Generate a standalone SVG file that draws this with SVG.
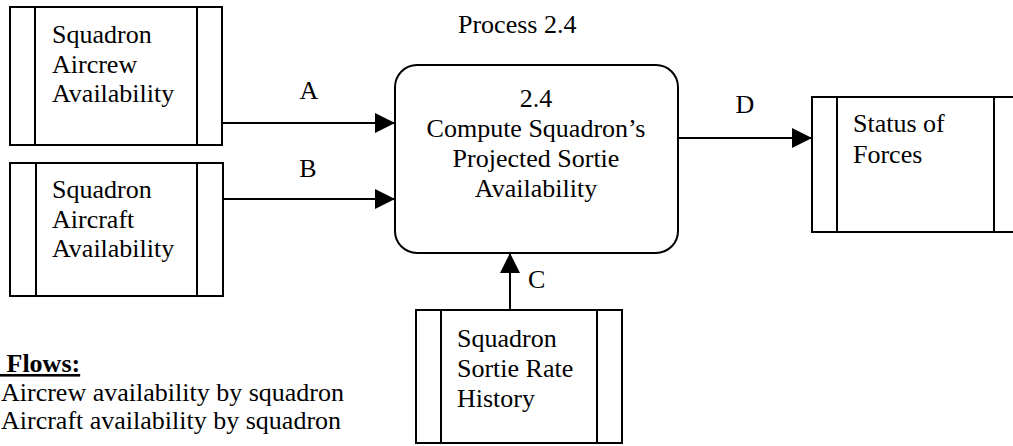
<svg xmlns="http://www.w3.org/2000/svg" width="1013" height="446" viewBox="0 0 1013 446">
<style>
text{font-family:"Liberation Serif","Times New Roman",serif;font-size:26px;fill:#000}
.box{fill:#fff;stroke:#000;stroke-width:2}
.ln{stroke:#000;stroke-width:2;fill:none}
.mid{text-anchor:middle}
</style>
<defs>
<marker id="ah" markerUnits="userSpaceOnUse" markerWidth="21" markerHeight="21" refX="20" refY="10" orient="auto">
<path d="M0,0 L20,10 L0,20 Z" fill="#000"/>
</marker>
</defs>
<rect width="1013" height="446" fill="#fff"/>
<text x="458" y="33">Process 2.4</text>
<g id="store-aircrew">
<rect class="box" x="10" y="7" width="212" height="138"/>
<line class="ln" x1="35" y1="7" x2="35" y2="145"/>
<line class="ln" x1="197" y1="7" x2="197" y2="145"/>
<text x="52" y="43">Squadron</text>
<text x="52" y="73">Aircrew</text>
<text x="52" y="102">Availability</text>
</g>
<g id="store-aircraft">
<rect class="box" x="10" y="163" width="213" height="133"/>
<line class="ln" x1="36" y1="163" x2="36" y2="296"/>
<line class="ln" x1="197" y1="163" x2="197" y2="296"/>
<text x="52" y="198">Squadron</text>
<text x="52" y="228">Aircraft</text>
<text x="52" y="257">Availability</text>
</g>
<g id="process-2-4">
<rect class="box" x="395" y="65" width="283" height="188" rx="22" ry="22"/>
<text class="mid" x="536" y="107">2.4</text>
<text class="mid" x="536" y="137">Compute Squadron’s</text>
<text class="mid" x="536" y="167">Projected Sortie</text>
<text class="mid" x="536" y="197">Availability</text>
</g>
<g id="store-status">
<rect class="box" x="812" y="97" width="210" height="135"/>
<line class="ln" x1="837" y1="97" x2="837" y2="232"/>
<line class="ln" x1="994" y1="97" x2="994" y2="232"/>
<text x="853" y="132">Status of</text>
<text x="853" y="163">Forces</text>
</g>
<g id="store-sortie">
<rect class="box" x="416" y="310" width="206" height="133"/>
<line class="ln" x1="441" y1="310" x2="441" y2="443"/>
<line class="ln" x1="597" y1="310" x2="597" y2="443"/>
<text x="457" y="347">Squadron</text>
<text x="457" y="377">Sortie Rate</text>
<text x="457" y="407">History</text>
</g>
<g id="connectors">
<line class="ln" x1="222" y1="123" x2="395" y2="123" marker-end="url(#ah)"/>
<line class="ln" x1="223" y1="199" x2="395" y2="199" marker-end="url(#ah)"/>
<line class="ln" x1="510" y1="310" x2="510" y2="253" marker-end="url(#ah)"/>
<line class="ln" x1="678" y1="138" x2="812" y2="138" marker-end="url(#ah)"/>
<text class="mid" x="309" y="99">A</text>
<text class="mid" x="308" y="177">B</text>
<text x="528" y="288">C</text>
<text class="mid" x="745" y="113">D</text>
</g>
<g id="legend">
<text x="0" y="372" font-weight="bold" text-decoration="underline" xml:space="preserve"> Flows:</text>
<text x="1" y="401" font-size="25">Aircrew availability by squadron</text>
<text x="1" y="429" font-size="25">Aircraft availability by squadron</text>
</g>
</svg>
